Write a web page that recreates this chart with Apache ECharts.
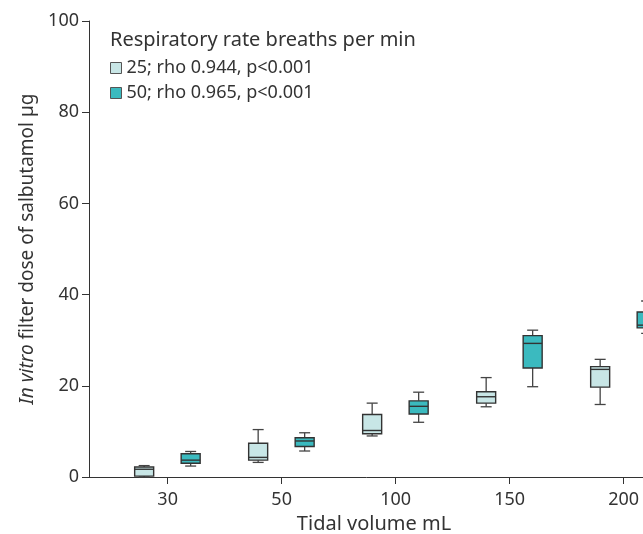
<!DOCTYPE html>
<html>
<head>
<meta charset="utf-8">
<script src="https://cdn.jsdelivr.net/npm/echarts@6/dist/echarts.min.js"></script>
<style>
html, body { margin: 0; padding: 0; background: #fff; }
#chart { width: 643px; height: 534px; }
</style>
</head>
<body>
<div id="chart"></div>
<script>
const tidalVolumes = ['30', '50', '100', '150', '200'];
const tickPos = [0, 1, 2, 3, 4];
// [min, Q1, median, Q3, max] in µg
const rate25 = [
    [0, 0.2, 1.7, 2.2, 2.5],
    [3.2, 3.7, 4.3, 7.4, 10.4],
    [9.0, 9.5, 10.2, 13.7, 16.2],
    [15.4, 16.2, 17.6, 18.7, 21.8],
    [15.9, 19.7, 23.6, 24.2, 25.8]
];
const rate50 = [
    [2.4, 3.0, 3.7, 5.1, 5.6],
    [5.7, 6.7, 7.9, 8.6, 9.7],
    [12.0, 13.8, 15.5, 16.7, 18.6],
    [19.8, 23.9, 29.3, 31.0, 32.2],
    [31.5, 32.7, 33.3, 36.2, 38.6]
];
const seriesNames = ['25; rho 0.944, p<0.001', '50; rho 0.965, p<0.001'];
const fills = ['#c8e6e6', '#3bbabf'];

const chart = echarts.init(document.getElementById('chart'));
const font = '"Noto Sans", sans-serif';
const textColor = '#333';
const fs = 18;

// box drawn beside its tick, shifted by offset px
const boxRenderer = (offset, fill) => (params, api) => {
    const x = api.value(0);
    const px = api.coord([x, 0])[0] + offset;
    const py = i => api.coord([x, api.value(i)])[1];
    const yMin = py(1), yQ1 = py(2), yMed = py(3), yQ3 = py(4), yMax = py(5);
    const hw = 9.5, cap = 5.5;
    const whisker = { stroke: '#444', lineWidth: 1.3 };
    const border = { stroke: '#333', lineWidth: 1.4 };
    return {
        type: 'group',
        children: [
            { type: 'line', shape: { x1: px, y1: yQ3, x2: px, y2: yMax }, style: whisker },
            { type: 'line', shape: { x1: px, y1: yQ1, x2: px, y2: yMin }, style: whisker },
            { type: 'line', shape: { x1: px - cap, y1: yMax, x2: px + cap, y2: yMax }, style: whisker },
            { type: 'line', shape: { x1: px - cap, y1: yMin, x2: px + cap, y2: yMin }, style: whisker },
            {
                type: 'rect',
                shape: { x: px - hw, y: yQ3, width: hw * 2, height: yQ1 - yQ3 },
                style: Object.assign({ fill: fill }, border)
            },
            { type: 'line', shape: { x1: px - hw, y1: yMed, x2: px + hw, y2: yMed }, style: border }
        ]
    };
};

const makeBox = (name, rows, fill, offset) => ({
    name: name,
    type: 'custom',
    itemStyle: { color: fill },
    renderItem: boxRenderer(offset, fill),
    encode: { x: 0, y: [1, 2, 3, 4, 5] },
    data: rows.map((r, i) => [tickPos[i]].concat(r))
});

const option = {
    animation: false,
    textStyle: { fontFamily: font },
    title: {
        text: 'Respiratory rate breaths per min',
        left: 110,
        top: 30,
        padding: 0,
        textStyle: { fontSize: 20, fontWeight: 'normal', color: textColor, fontFamily: font }
    },
    legend: {
        orient: 'vertical',
        left: 110,
        top: 59,
        padding: 0,
        icon: 'rect',
        itemWidth: 11,
        itemHeight: 11,
        itemGap: 7,
        textStyle: { fontSize: fs, color: textColor, fontFamily: font },
        data: seriesNames.map((n, i) => ({
            name: n,
            itemStyle: { color: fills[i], borderColor: '#555', borderWidth: 1 }
        }))
    },
    grid: {
        left: 89,
        right: -16,
        top: 21,
        bottom: 57,
        outerBoundsMode: 'none'
    },
    xAxis: {
        type: 'value',
        min: -0.69,
        max: 4.31,
        name: 'Tidal volume mL',
        nameLocation: 'middle',
        nameGap: 37,
        nameTextStyle: { fontSize: 20, color: textColor },
        axisLine: { onZero: false, lineStyle: { color: '#333' } },
        axisTick: { customValues: tickPos, length: 7, lineStyle: { color: '#333' } },
        axisLabel: {
            customValues: tickPos,
            formatter: v => tidalVolumes[Math.round(v)],
            fontSize: fs,
            color: textColor,
            margin: 14
        },
        splitLine: { show: false }
    },
    yAxis: {
        type: 'value',
        min: 0,
        max: 100,
        interval: 20,
        name: '{i|In vitro} filter dose of salbutamol µg',
        nameLocation: 'middle',
        nameGap: 44,
        nameTextStyle: {
            fontSize: 19,
            color: textColor,
            rich: { i: { fontStyle: 'italic', fontSize: 19, color: textColor } }
        },
        axisLine: { show: true, onZero: false, lineStyle: { color: '#333' } },
        axisTick: { show: true, length: 7, lineStyle: { color: '#333' } },
        axisLabel: { fontSize: fs, color: textColor, margin: 10 },
        splitLine: { show: false }
    },
    series: [
        makeBox(seriesNames[0], rate25, fills[0], -23.5),
        makeBox(seriesNames[1], rate50, fills[1], 23)
    ]
};

chart.setOption(option);
window.addEventListener('resize', () => {
    chart.resize();
});
</script>
</body>
</html>
